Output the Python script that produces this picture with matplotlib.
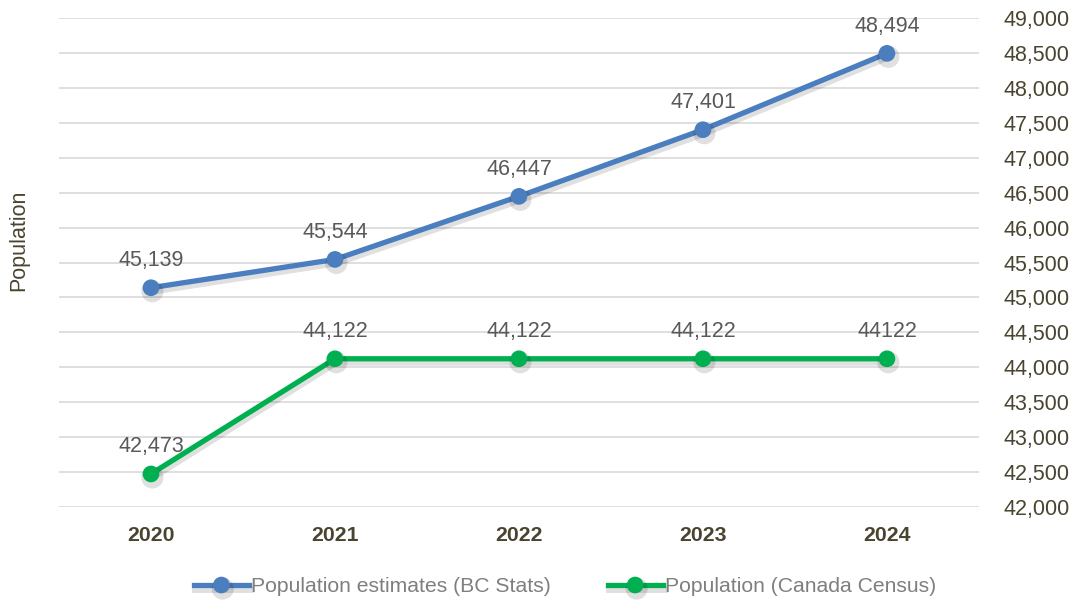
import matplotlib.pyplot as plt
import matplotlib.patheffects as pe
from matplotlib.ticker import FuncFormatter

plt.rcParams["font.family"] = ["Liberation Sans", "DejaVu Sans"]

years = ["2020", "2021", "2022", "2023", "2024"]
bc_stats = [45139, 45544, 46447, 47401, 48494]
census = [42473, 44122, 44122, 44122, 44122]
bc_labels = ["45,139", "45,544", "46,447", "47,401", "48,494"]
census_labels = ["42,473", "44,122", "44,122", "44,122", "44122"]

blue = "#4A7EBF"
green = "#00B050"
tick_col = "#4A4530"
lbl_col = "#595959"

fig = plt.figure(figsize=(10.76, 6.01), dpi=100)
ax = fig.add_axes([0.0548, 0.1564, 0.855, 0.8136])

x = range(len(years))
# soft drop shadow under the lines
shadow = [pe.SimpleLineShadow(offset=(1, -2.5), shadow_color="#000000", alpha=0.12, linewidth=5),
          pe.Normal()]
ax.plot(x, bc_stats, color=blue, lw=3.8, marker="o", ms=11, zorder=3,
        label="Population estimates (BC Stats)", path_effects=shadow)
ax.plot(x, census, color=green, lw=3.8, marker="o", ms=11, zorder=3,
        label="Population (Canada Census)", path_effects=shadow)

for i in x:
    ax.annotate(bc_labels[i], (i, bc_stats[i]), xytext=(0, 12), textcoords="offset points",
                ha="center", va="bottom", fontsize=15.5, color=lbl_col)
    ax.annotate(census_labels[i], (i, census[i]), xytext=(0, 12), textcoords="offset points",
                ha="center", va="bottom", fontsize=15.5, color=lbl_col)

ax.set_xlim(-0.5, 4.5)
ax.set_ylim(42000, 49000)
ax.set_yticks(range(42000, 49001, 500))
ax.yaxis.set_major_formatter(FuncFormatter(lambda v, p: f"{int(v):,}"))
ax.yaxis.tick_right()
ax.set_xticks(list(x))
ax.set_xticklabels(years, fontweight="bold")
ax.tick_params(axis="y", length=0, pad=18, labelsize=15.5, labelcolor=tick_col)
ax.tick_params(axis="x", length=0, pad=14, labelsize=15.3, labelcolor=tick_col)
ax.grid(axis="y", color="#D9D9D9", lw=1.2)
ax.set_axisbelow(True)
for s in ax.spines.values():
    s.set_visible(False)

fig.text(0.017, 0.6, "Population", rotation=90, ha="center", va="center", fontsize=15.5, color=tick_col)

leg = fig.legend(loc="lower center", bbox_to_anchor=(0.525, -0.024), ncol=2, frameon=False,
                 fontsize=15.2, handlelength=2.6, handletextpad=0.1, columnspacing=2.7)
for t in leg.get_texts():
    t.set_color("#7F7F7F")

fig.savefig("out.png", dpi=100)
